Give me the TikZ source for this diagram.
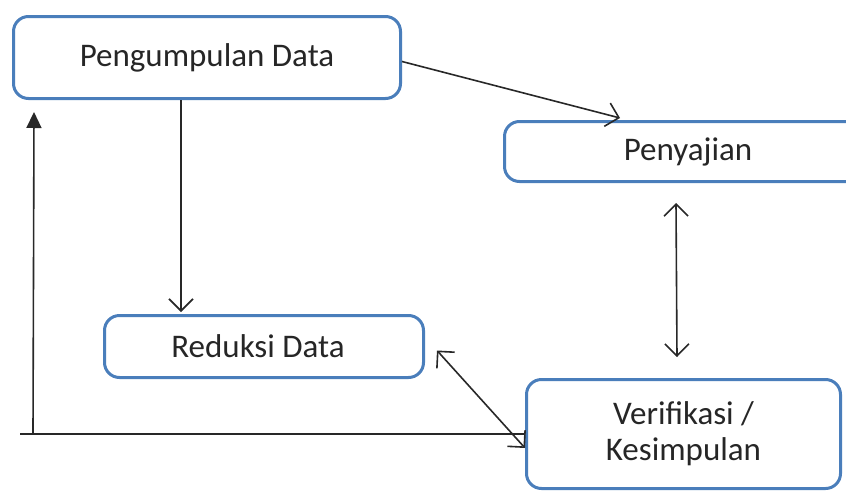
\documentclass[tikz,border=0pt]{standalone}
\usepackage{fontspec}
\setmainfont{Carlito}
\usetikzlibrary{arrows.meta}
\definecolor{boxblue}{RGB}{74,126,187}
\definecolor{linegray}{RGB}{40,40,40}
\tikzset{
  stagebox/.style={draw=boxblue, line width=3pt, rounded corners=15pt, fill=white,
    align=center, inner sep=0pt, font=\fontsize{33}{36}\selectfont, text=black!85},
  conn/.style={draw=linegray, line width=1.6pt},
  openarrow/.style={conn, -{Straight Barb[length=12pt,width=24pt]}},
  openboth/.style={conn, {Straight Barb[length=12pt,width=24pt]}-{Straight Barb[length=12pt,width=24pt]}},
  fillarrow/.style={conn, -{Triangle[length=16pt,width=15pt]}}
}
\begin{document}
\begin{tikzpicture}[x=1pt,y=-1pt]
\useasboundingbox (0,0) rectangle (846,493);
\begin{scope}
\clip (0,0) rectangle (846,493);
\node[stagebox, minimum width=387pt, minimum height=82pt] (pd) at (207,57.5) {Pengumpulan Data};
\node[stagebox, minimum width=367pt, minimum height=60pt] (pj) at (688,151.5) {Penyajian};
\node[stagebox, minimum width=319pt, minimum height=62pt] (rd) at (264,346.5) {\hspace*{-12pt}Reduksi Data};
\node[stagebox, minimum width=314pt, minimum height=109pt] (vk) at (683.5,434) {Verifikasi /\\Kesimpulan};
\end{scope}
\coordinate (c1) at (20,434);
\coordinate (c2) at (33,434);
\coordinate (c3) at (34,112);
\draw[openarrow] ([yshift=-4pt]pd.east) -- ([xshift=117pt,yshift=2pt]pj.north west);
\draw[openarrow] ([xshift=-26pt]pd.south) -- ([xshift=-83pt,yshift=2pt]rd.north);
\draw[openboth] ([xshift=-12pt,yshift=-20pt]pj.south) -- ([xshift=-6.5pt,yshift=21pt]vk.north);
\draw[openboth] ([xshift=12pt,yshift=-4pt]rd.east) -- ([yshift=-14pt]vk.west);
\draw[conn] (vk.west) -- (c1);
\draw[fillarrow] (c2) -- (c3);
\end{tikzpicture}
\end{document}
